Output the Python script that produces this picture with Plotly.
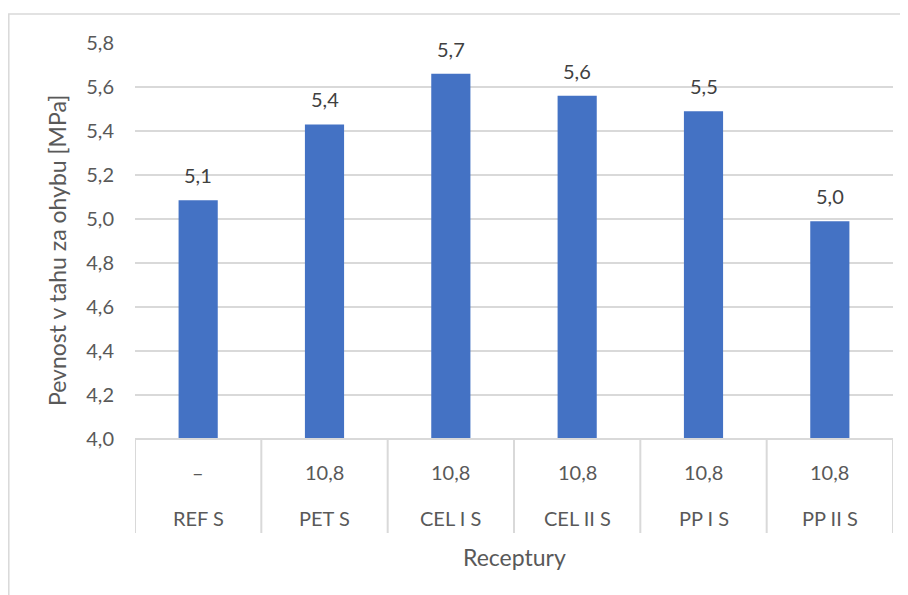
import plotly.graph_objects as go

categories = ["REF S", "PET S", "CEL I S", "CEL II S", "PP I S", "PP II S"]
dosage_labels = ["–", "10,8", "10,8", "10,8", "10,8", "10,8"]
values = [5.085, 5.43, 5.66, 5.56, 5.49, 4.99]
y_ticks = [4.0, 4.2, 4.4, 4.6, 4.8, 5.0, 5.2, 5.4, 5.6, 5.8]

W, H = 908, 595
OFF = 8  # page body margin
L, R, T, B = 135 - OFF, 15 + OFF, 43 - OFF, 156 + OFF
pw, ph = W - L - R, H - T - B


def px_x(x):
    return (x - OFF - L) / pw


def px_y(y):
    return (H - B - (y - OFF)) / ph


FONT = "Lato"
TXT = "#595959"
LBL = 20
TTL = 23

fig = go.Figure()
fig.add_trace(go.Bar(
    x=categories, y=values, marker=dict(color="#4472C4", line=dict(width=0)),
    width=0.31, hoverinfo="skip",
))

annotations = []
for c, v in zip(categories, values):
    annotations.append(dict(x=c, y=v, xref="x", yref="y", text=f"{v:.1f}".replace(".", ","),
                            showarrow=False, yshift=25, yanchor="middle",
                            font=dict(family=FONT, size=LBL, color="#404040")))
for c, d in zip(categories, dosage_labels):
    annotations.append(dict(x=c, y=px_y(472), xref="x", yref="paper", text=d, showarrow=False,
                            yanchor="middle", font=dict(family=FONT, size=LBL, color=TXT)))
    annotations.append(dict(x=c, y=px_y(518), xref="x", yref="paper", text=c, showarrow=False,
                            yanchor="middle", font=dict(family=FONT, size=LBL, color=TXT)))
annotations.append(dict(x=px_x(57), y=px_y(251), xref="paper", yref="paper",
                        text="Pevnost v tahu za ohybu [MPa]", textangle=-90, showarrow=False,
                        xanchor="center", yanchor="middle",
                        font=dict(family=FONT, size=TTL, color=TXT)))
annotations.append(dict(x=px_x(514), y=px_y(557), xref="paper", yref="paper",
                        text="Receptury", showarrow=False, xanchor="center", yanchor="middle",
                        font=dict(family=FONT, size=TTL, color=TXT)))

shapes = []
n = len(categories)
for i in range(n + 1):
    shapes.append(dict(type="line", xref="x", yref="paper", x0=i - 0.5, x1=i - 0.5,
                       y0=0, y1=px_y(533), line=dict(color="#d9d9d9", width=2)))
shapes.append(dict(type="line", xref="paper", yref="paper", x0=0, x1=1, y0=0, y1=0,
                   line=dict(color="#d9d9d9", width=2)))
shapes.append(dict(type="rect", xref="paper", yref="paper", x0=px_x(8.8), x1=px_x(940),
                   y0=px_y(14), y1=px_y(650), line=dict(color="#d9d9d9", width=1.5)))

fig.update_layout(
    width=W, height=H,
    margin=dict(l=L, r=R, t=T, b=B, autoexpand=False),
    paper_bgcolor="white", plot_bgcolor="white",
    showlegend=False,
    separators=", ",
    xaxis=dict(type="category", range=[-0.5, n - 0.5], showticklabels=False,
               showgrid=False, zeroline=False, showline=False, fixedrange=True),
    yaxis=dict(range=[4.0, 5.8], tickvals=y_ticks,
               ticktext=[f"{t:.1f}".replace(".", ",") for t in y_ticks],
               showgrid=True, gridcolor="#d9d9d9", gridwidth=1.5, zeroline=False,
               showline=False, ticks="", ticklabelstandoff=20,
               tickfont=dict(family=FONT, size=LBL, color=TXT)),
    annotations=annotations, shapes=shapes,
)

fig.write_html("out.html")
